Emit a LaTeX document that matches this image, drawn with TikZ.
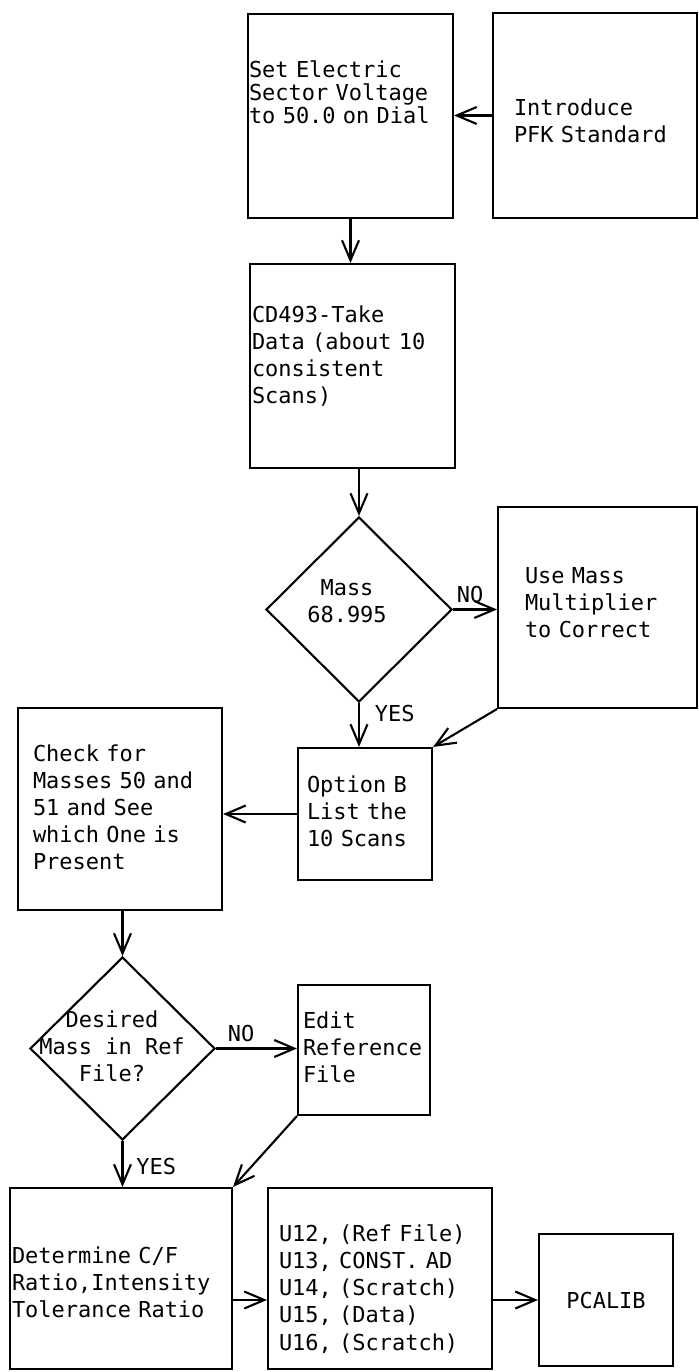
\documentclass[tikz,border=0pt]{standalone}
\usepackage{fontspec}
\setmonofont[WordSpace={1,0,0}]{DejaVu Sans Mono}
\usetikzlibrary{shapes.geometric}
\usetikzlibrary{arrows.meta}

% typewriter text with full-width spaces
\newcommand{\flowfont}[1]{\ttfamily\fontsize{12.5pt}{#1}\selectfont
  \spaceskip=0.602em\relax\xspaceskip=0.602em\relax}

\begin{document}
\begin{tikzpicture}[x=0.02cm,y=-0.02cm,->,>={Straight Barb[length=4mm,width=3.4mm]},line width=1.2pt,
  font=\flowfont{15.4pt},
  box node/.style={rectangle,draw,align=left,inner ysep=0pt,text height=0.34cm},
  decision node/.style={diamond,draw,inner sep=0pt},
  flow text/.style={align=center,inner sep=0pt,anchor=center}]
  \useasboundingbox (0,0) rectangle (699,1372);

  % top row
  \node[box node,minimum width=4.1cm,minimum height=4.08cm,inner xsep=0.02cm,text width=4.06cm,text depth=1.9cm,
    font=\flowfont{13.1pt}] (setv) at (350.5,116) {Set Electric\\Sector Voltage\\to 50.0 on Dial};
  \node[box node,minimum width=4.08cm,minimum height=4.1cm,inner xsep=0.42cm,text width=3.24cm,text depth=0.36cm] (pfk) at (595,115.5) {Introduce\\PFK Standard};
  \node[box node,minimum width=4.1cm,minimum height=4.08cm,inner xsep=0.04cm,text width=4.02cm,text depth=2.1cm] (cd) at (352.5,366) {CD493-Take\\Data (about 10\\consistent\\Scans)};

  % mass check
  \node[decision node,minimum width=3.72cm,minimum height=3.7cm,
    label={[flow text,xshift=-0.24cm,yshift=0.16cm]center:{Mass\\68.995}}] (mass) at (359,609.5) {};
  \node[box node,minimum width=3.98cm,minimum height=4.02cm,inner xsep=0.54cm,text width=2.9cm,text depth=1.32cm] (use) at (597.5,607.5) {Use Mass\\Multiplier\\to Correct};
  \node[box node,minimum width=2.68cm,minimum height=2.64cm,inner xsep=0.18cm,text width=2.32cm,text depth=1.22cm] (opt) at (365,814) {Option B\\List the\\10 Scans};
  \node[box node,minimum width=4.08cm,minimum height=4.04cm,inner xsep=0.3cm,text width=3.48cm,text depth=2.26cm] (check) at (120,809) {Check for\\Masses 50 and\\51 and See\\which One is\\Present};

  % reference file
  \node[decision node,minimum width=3.7cm,minimum height=3.66cm,
    label={[flow text,xshift=-0.21cm,yshift=0.04cm]center:{Desired\\Mass in Ref\\File?}}] (desired) at (122.5,1048.5) {};
  \node[box node,minimum width=2.64cm,minimum height=2.6cm,inner xsep=0.1cm,text width=2.44cm,text depth=1.22cm] (edit) at (364,1050) {Edit\\Reference\\File};

  % bottom row
  \node[box node,minimum width=4.44cm,minimum height=3.62cm,inner xsep=0.04cm,text width=4.36cm,text depth=0.96cm] (det) at (121,1278.5) {Determine C/F\\Ratio,Intensity\\Tolerance Ratio};
  \node[box node,minimum width=4.48cm,minimum height=3.62cm,inner xsep=0.22cm,text width=4.04cm,text depth=1.81cm] (units) at (380,1278.5) {U12, (Ref File)\\U13, CONST. AD\\U14, (Scratch)\\U15, (Data)\\U16, (Scratch)};
  \node[box node,minimum width=2.68cm,minimum height=2.64cm] (pcalib) at (606,1300) {PCALIB};

  \path (pfk.west) edge (pfk.west -| setv.east)
        (setv.south) edge (setv.south |- cd.north)
        (cd.south -| mass.north) edge (mass.north)
        (mass.east) edge node[above,pos=0.39] {NO} (mass.east -| use.west)
        (mass.south) edge node[right,pos=0.23,xshift=0.18cm] {YES} (mass.south |- opt.north)
        (use.south west) edge (opt.north east)
        (opt.west) edge (opt.west -| check.east)
        (check.south -| desired.north) edge (desired.north)
        (desired.east) edge node[above,pos=0.31] {NO} (desired.east -| edit.west)
        (desired.south) edge node[right,pos=0.55,xshift=0.14cm] {YES} (desired.south |- det.north)
        (edit.south west) edge (det.north east)
        (det.east |- pcalib.west) edge (units.west |- pcalib.west)
        (units.east |- pcalib.west) edge (pcalib.west);
\end{tikzpicture}
\end{document}
